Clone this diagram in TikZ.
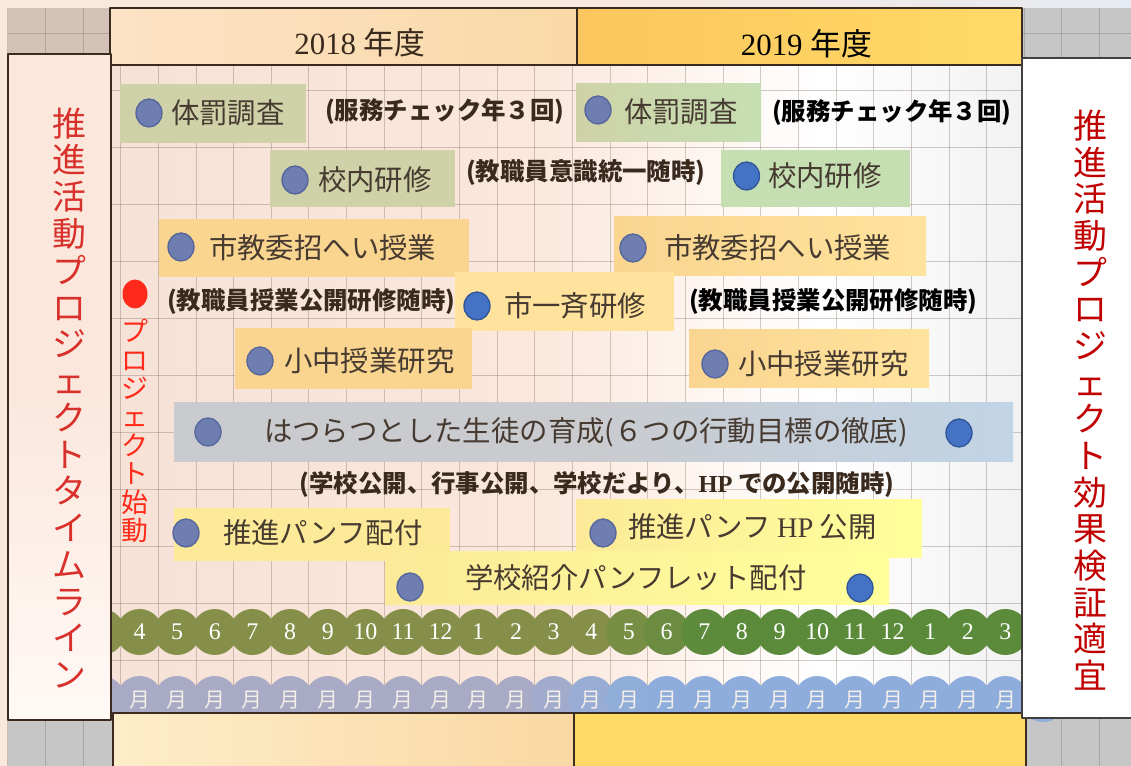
\documentclass[tikz,border=0pt]{standalone}
\usepackage{fontspec}
\setmainfont{Liberation Serif}
\newfontfamily\jp{Noto Sans CJK JP}
\usetikzlibrary{shapes.geometric}

\definecolor{bgpeach}{HTML}{FBE8DC}
\definecolor{topblue}{HTML}{E6EAF2}
\definecolor{cornerbrown}{HTML}{D5C2B6}
\definecolor{cornergrey}{HTML}{C6C6C6}
\definecolor{gridcol}{HTML}{7E6C60}
\definecolor{mbA}{HTML}{E0CCC0}
\definecolor{mbB}{HTML}{F5E1D5}
\definecolor{mbC}{HTML}{FBE7DB}
\definecolor{mbD}{HTML}{D4D4D4}
\definecolor{edgebrown}{HTML}{3B2A20}
\definecolor{hdrA}{HTML}{FCE3C6}
\definecolor{hdrB}{HTML}{F9D9A6}
\definecolor{hdrC}{HTML}{FBC65E}
\definecolor{hdrD}{HTML}{FFDA66}
\definecolor{footA}{HTML}{FEEDC8}
\definecolor{footB}{HTML}{F9D8A3}
\definecolor{footC}{HTML}{FFD966}
\definecolor{panelA}{HTML}{FBE7DC}
\definecolor{panelB}{HTML}{FFF9F6}
\definecolor{khaki}{HTML}{CFD2A8}
\definecolor{mint}{HTML}{C5DFB3}
\definecolor{apricot}{HTML}{F9D590}
\definecolor{cream}{HTML}{FFE39C}
\definecolor{lemon}{HTML}{FCEA98}
\definecolor{lemonB}{HTML}{FFFF9B}
\definecolor{greyblue}{HTML}{CACBCF}
\definecolor{skyblue}{HTML}{BDD7EE}
\definecolor{dotgrey}{HTML}{6F7EB0}
\definecolor{dotedge}{HTML}{55649A}
\definecolor{dotblue}{HTML}{4472C4}
\definecolor{dotblueedge}{HTML}{2F5597}
\definecolor{leafA}{HTML}{858F4A}
\definecolor{leafB}{HTML}{5A8A3A}
\definecolor{mauveA}{HTML}{A9AAC5}
\definecolor{mauveB}{HTML}{8EADDC}
\definecolor{tsukitext}{HTML}{F4EEE8}
\definecolor{labtext}{HTML}{463A31}
\definecolor{parbrown}{HTML}{3A2A1E}
\definecolor{redL}{HTML}{D8302A}
\definecolor{redR}{HTML}{C00000}
\definecolor{redP}{HTML}{FF2A1A}

\pgfdeclarehorizontalshading{mainbg}{100bp}{color(0bp)=(mbA); color(22bp)=(mbB); color(48bp)=(mbC); color(64bp)=(white); color(100bp)=(mbD)}
\pgfdeclarehorizontalshading{hatsubg}{100bp}{color(0bp)=(greyblue); color(50bp)=(greyblue); color(85bp)=(skyblue); color(100bp)=(skyblue)}

\begin{document}
\begin{tikzpicture}[line join=bevel,
  lbox/.style={rectangle,inner sep=0pt,outer sep=0pt},
  hdr/.style={rectangle,draw=edgebrown,line width=1.3bp,inner sep=0pt},
  mdot/.style={ellipse,inner sep=0pt,minimum width=26bp,minimum height=28bp,fill=dotgrey,draw=dotedge,line width=1.3bp},
  mdotb/.style={mdot,fill=dotblue,draw=dotblueedge},
  lab/.style={anchor=west,inner sep=0pt,text=labtext,font=\jp\fontsize{28.5}{30}\selectfont},
  note/.style={anchor=west,inner sep=0pt,text=parbrown,font=\jp\bfseries\fontsize{24.5}{26}\selectfont},
  month/.style={inner sep=0pt,text=white,font=\fontsize{24}{24}\selectfont},
  tsuki/.style={inner sep=0pt,text=tsukitext,font=\jp\fontsize{21}{21}\selectfont},
  gridline/.style={draw=gridcol,opacity=.35,line width=.9bp}]
\useasboundingbox (0bp,0bp) rectangle (1131bp,766bp);
%% background
\fill[bgpeach] (0bp,0bp) rectangle (1131bp,766bp);
\shade[left color=bgpeach,right color=topblue] (520bp,758bp) rectangle (1131bp,766bp);
\fill[cornerbrown] (8bp,711bp) rectangle (110bp,758bp);
\fill[cornergrey] (1022bp,708bp) rectangle (1131bp,758bp);
\fill[cornergrey] (8bp,0bp) rectangle (112bp,48bp);
\fill[cornergrey] (1022bp,0bp) rectangle (1131bp,48bp);
\shade[shading=mainbg] (110bp,46bp) rectangle (1022bp,711bp);
\foreach \i in {0,...,29} {
  \pgfmathsetmacro\gx{7.7+37.65*\i}
  \draw[gridline] (\gx bp,0bp) -- (\gx bp,758bp);
}
\foreach \j in {0,...,12} {
  \pgfmathsetmacro\gy{733-57*\j}
  \draw[gridline] (8bp,\gy bp) -- (1131bp,\gy bp);
}
%% month rows
\begin{scope}
\clip (112bp,0bp) rectangle (1131bp,766bp);
\foreach \k in {-1,...,24} {
  \pgfmathsetmacro\cx{139.5+37.65*\k}
  \pgfmathtruncatemacro\p{min(100,max(0,(\k-12)*30))}
  \pgfmathtruncatemacro\q{min(100,max(0,(\k-10)*30))}
  \fill[leafB!\p!leafA] (\cx bp,134bp) circle (23bp);
  \fill[mauveB!\q!mauveA] (\cx bp,67bp) circle (23bp);
}
\end{scope}
\foreach \m [count=\k from 0] in {4,5,6,7,8,9,10,11,12,1,2,3,4,5,6,7,8,9,10,11,12,1,2,3} {
  \pgfmathsetmacro\cx{139.5+37.65*\k}
  \node (mo\k) at (\cx bp,134bp) [month] {\m};
  \node (tk\k) at (\cx bp,66bp) [tsuki] {月};
}
%% frame
\node (ft18) at (343.5bp,25.5bp) [hdr,left color=footA,right color=footB,minimum width=461bp,minimum height=55bp] {};
\node (ft19) at (800bp,25.5bp) [hdr,fill=footC,minimum width=452bp,minimum height=55bp] {};
\node (yb18) at (343.5bp,729.5bp) [hdr,left color=hdrA,right color=hdrB,minimum width=467bp,minimum height=57bp] {};
\node (yb19) at (799.5bp,729.5bp) [hdr,left color=hdrC,right color=hdrD,minimum width=445bp,minimum height=57bp] {};
\node (yr18) at (360bp,723bp) [text=parbrown,font=\fontsize{31}{31}\selectfont] {2018 {\jp 年度}};
\node (yr19) at (806.5bp,722.5bp) [text=black,font=\fontsize{31}{31}\selectfont] {2019 {\jp 年度}};
\node (lp) at (59.5bp,379bp) [hdr,top color=panelA,bottom color=panelB,middle color=panelA,minimum width=103bp,minimum height=666bp] {};
\node (lpt) at (69.5bp,368bp) [align=center,inner sep=0pt,text=redL,font=\jp\fontsize{34}{36.9}\selectfont]
  {推\\進\\活\\動\\プ\\ロ\\ジ\\ェ\\ク\\ト\\タ\\イ\\ム\\ラ\\イ\\ン};
\node (rp) at (1079bp,378bp) [hdr,draw=black!75,fill=white,minimum width=114bp,minimum height=660bp] {};
\node (rpt) at (1090bp,366bp) [align=center,inner sep=0pt,text=redR,font=\jp\fontsize{34}{36.8}\selectfont]
  {推\\進\\活\\動\\プ\\ロ\\ジ\\ェ\\ク\\ト\\効\\果\\検\\証\\適\\宜};
\node (pd) at (135bp,472bp) [ellipse,inner sep=0pt,minimum width=25bp,minimum height=29bp,fill=redP] {};
\node (pdt) at (135bp,335bp) [align=center,inner sep=0pt,text=redP,font=\jp\fontsize{27}{28.5}\selectfont]
  {プ\\ロ\\ジ\\ェ\\ク\\ト\\始\\動};
%% labels
\node (tb18) at (213bp,652.5bp) [lbox,fill=khaki,minimum width=186bp,minimum height=59bp] {};
\node (tb18d) at (149bp,653bp) [mdot] {};
\node (tb18t) at (171bp,653bp) [lab] {体罰調査};
\node (nt1) at (325bp,654bp) [note] {(服務チェック年３回)};
\node (tb19) at (668.5bp,653bp) [lbox,left color=khaki,right color=mint,minimum width=185bp,minimum height=58bp] {};
\node (tb19d) at (598bp,656bp) [mdot] {};
\node (tb19t) at (624bp,654bp) [lab] {体罰調査};
\node (nt2) at (772bp,653bp) [note,text=black] {(服務チェック年３回)};
\node (kn18) at (362.5bp,587.5bp) [lbox,fill=khaki,minimum width=185bp,minimum height=57bp] {};
\node (kn18d) at (295bp,586bp) [mdot] {};
\node (kn18t) at (318bp,586bp) [lab] {校内研修};
\node (nt3) at (466bp,593bp) [note] {(教職員意識統一随時)};
\node (kn19) at (815.5bp,587.5bp) [lbox,fill=mint,minimum width=189bp,minimum height=57bp] {};
\node (kn19d) at (746.5bp,590bp) [mdotb] {};
\node (kn19t) at (768bp,590bp) [lab] {校内研修};
\node (sk18) at (314bp,518bp) [lbox,fill=apricot,minimum width=310bp,minimum height=58bp] {};
\node (sk18d) at (181bp,519bp) [mdot] {};
\node (sk18t) at (209bp,518bp) [lab] {市教委招へい授業};
\node (sk19) at (770bp,519.5bp) [lbox,left color=apricot,right color=cream,minimum width=312bp,minimum height=59bp] {};
\node (sk19d) at (633bp,518bp) [mdot] {};
\node (sk19t) at (664bp,518bp) [lab] {市教委招へい授業};
\node (nt4) at (167bp,464bp) [note] {(教職員授業公開研修随時)};
\node (is) at (564.5bp,464.5bp) [lbox,fill=cream,minimum width=219bp,minimum height=59bp] {};
\node (isd) at (477bp,460bp) [mdotb] {};
\node (ist) at (504bp,460bp) [lab] {市一斉研修};
\node (nt5) at (689bp,464bp) [note,text=black] {(教職員授業公開研修随時)};
\node (sc18) at (353.5bp,407.5bp) [lbox,fill=apricot,minimum width=237bp,minimum height=61bp] {};
\node (sc18d) at (260bp,405bp) [mdot] {};
\node (sc18t) at (284bp,405bp) [lab] {小中授業研究};
\node (sc19) at (809bp,407bp) [lbox,left color=apricot,right color=cream,minimum width=240bp,minimum height=58bp] {};
\node (sc19d) at (715bp,402bp) [mdot] {};
\node (sc19t) at (738bp,402bp) [lab] {小中授業研究};
\node (ha) at (593.5bp,333.5bp) [lbox,shading=hatsubg,minimum width=839bp,minimum height=59bp] {};
\node (hadl) at (208bp,334bp) [mdot] {};
\node (hadr) at (959bp,333bp) [mdotb] {};
\node (hat) at (586bp,334bp) [lab,anchor=center] {はつらつとした生徒の育成(６つの行動目標の徹底)};
\node (nt6) at (597bp,282bp) [note,anchor=center] {(学校公開、行事公開、学校だより、{\rmfamily HP} での公開随時)};
\node (sp18) at (312bp,231.5bp) [lbox,fill=lemon,minimum width=276bp,minimum height=53bp] {};
\node (sp18d) at (186bp,233bp) [mdot] {};
\node (sp18t) at (223bp,233bp) [lab] {推進パンフ配付};
\node (sh19) at (749bp,237bp) [lbox,left color=lemon,right color=lemonB,minimum width=346bp,minimum height=58bp] {};
\node (sh19d) at (603bp,233bp) [mdot] {};
\node (sh19t) at (628bp,239bp) [lab] {推進パンフ {\rmfamily HP} 公開};
\node (gs) at (637bp,187.5bp) [lbox,left color=lemon,right color=lemonB,minimum width=504bp,minimum height=53bp] {};
\node (gsdl) at (410bp,179bp) [mdot] {};
\node (gsdr) at (860bp,178bp) [mdotb] {};
\node (gst) at (465bp,188bp) [lab] {学校紹介パンフレット配付};
%
\end{tikzpicture}
\end{document}
